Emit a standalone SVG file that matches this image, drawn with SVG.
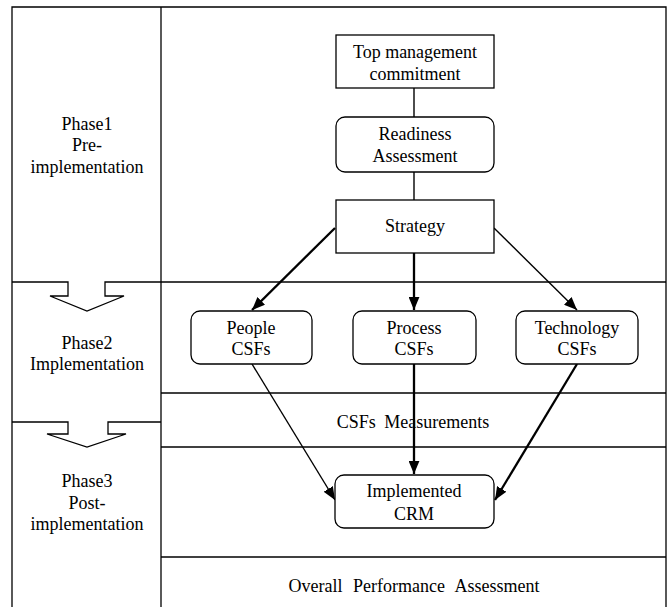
<svg xmlns="http://www.w3.org/2000/svg" width="671" height="607" viewBox="0 0 671 607">
<style>
text{font-family:"Liberation Serif","Times New Roman",serif;font-size:18px;fill:#000;text-anchor:middle}
.frame{fill:none;stroke:#000;stroke-width:1.3}
.box{fill:#fff;stroke:#000;stroke-width:1.3}
.thin{stroke:#000;stroke-width:1.4;fill:none}
.thick{stroke:#000;stroke-width:2.3;fill:none}
</style>
<defs>
<marker id="ah" viewBox="0 0 12 10" refX="12" refY="5" markerWidth="13" markerHeight="11" markerUnits="userSpaceOnUse" orient="auto">
<path d="M0,0 L12,5 L0,10 z" fill="#000"/>
</marker>
</defs>
<g id="frame">
<path class="frame" d="M12,620 L12,7 L666,7 L666,620"/>
<line class="frame" x1="161" y1="7" x2="161" y2="620"/>
<path class="frame" d="M12,282 L68,282 L68,296 L50,296 L87,311 L124,296 L105,296 L105,282 L666,282"/>
<path class="frame" d="M12,422 L68,422 L68,434 L47,434 L87,447 L126,434 L108,434 L108,422 L161,422"/>
<line class="frame" x1="161" y1="393" x2="666" y2="393"/>
<line class="frame" x1="161" y1="447" x2="666" y2="447"/>
<line class="frame" x1="161" y1="557" x2="666" y2="557"/>
</g>
<g id="phase1"><text x="87" y="130">Phase1</text><text x="87" y="151">Pre-</text><text x="87" y="173">implementation</text></g>
<g id="phase2"><text x="87" y="349">Phase2</text><text x="87" y="370">Implementation</text></g>
<g id="phase3"><text x="87" y="487">Phase3</text><text x="87" y="509">Post-</text><text x="87" y="530">implementation</text></g>
<g id="connectors">
<line class="thin" x1="414" y1="88" x2="414" y2="117"/>
<line class="thin" x1="414" y1="172" x2="414" y2="200"/>
<line class="thick" x1="335" y1="228" x2="252" y2="310" marker-end="url(#ah)"/>
<line class="thick" x1="414" y1="253" x2="414" y2="310" marker-end="url(#ah)"/>
<line class="thin" x1="494" y1="228" x2="577" y2="310" marker-end="url(#ah)"/>
<line class="thin" x1="252" y1="364" x2="335" y2="500" marker-end="url(#ah)"/>
<line class="thick" x1="414" y1="364" x2="414" y2="474" marker-end="url(#ah)"/>
<line class="thick" x1="577" y1="364" x2="495" y2="500" marker-end="url(#ah)"/>
</g>
<g id="top"><rect class="box" x="336" y="35" width="158" height="53"/><text x="415" y="58">Top management</text><text x="415" y="80">commitment</text></g>
<g id="readiness"><rect class="box" x="336" y="117" width="158" height="55" rx="9"/><text x="415" y="140">Readiness</text><text x="415" y="162">Assessment</text></g>
<g id="strategy"><rect class="box" x="336" y="200" width="158" height="53"/><text x="415" y="232">Strategy</text></g>
<g id="people"><rect class="box" x="191" y="311" width="121" height="53" rx="9"/><text x="251" y="334">People</text><text x="251" y="355">CSFs</text></g>
<g id="process"><rect class="box" x="353" y="311" width="123" height="53" rx="9"/><text x="414" y="334">Process</text><text x="414" y="355">CSFs</text></g>
<g id="technology"><rect class="box" x="516" y="311" width="122" height="53" rx="9"/><text x="577" y="334">Technology</text><text x="577" y="355">CSFs</text></g>
<g id="measurements"><text x="413" y="428" word-spacing="4">CSFs Measurements</text></g>
<g id="implemented"><rect class="box" x="335" y="475" width="159" height="53" rx="9"/><text x="414" y="497">Implemented</text><text x="414" y="520">CRM</text></g>
<g id="overall"><text x="414" y="592" word-spacing="6">Overall Performance Assessment</text></g>
</svg>
